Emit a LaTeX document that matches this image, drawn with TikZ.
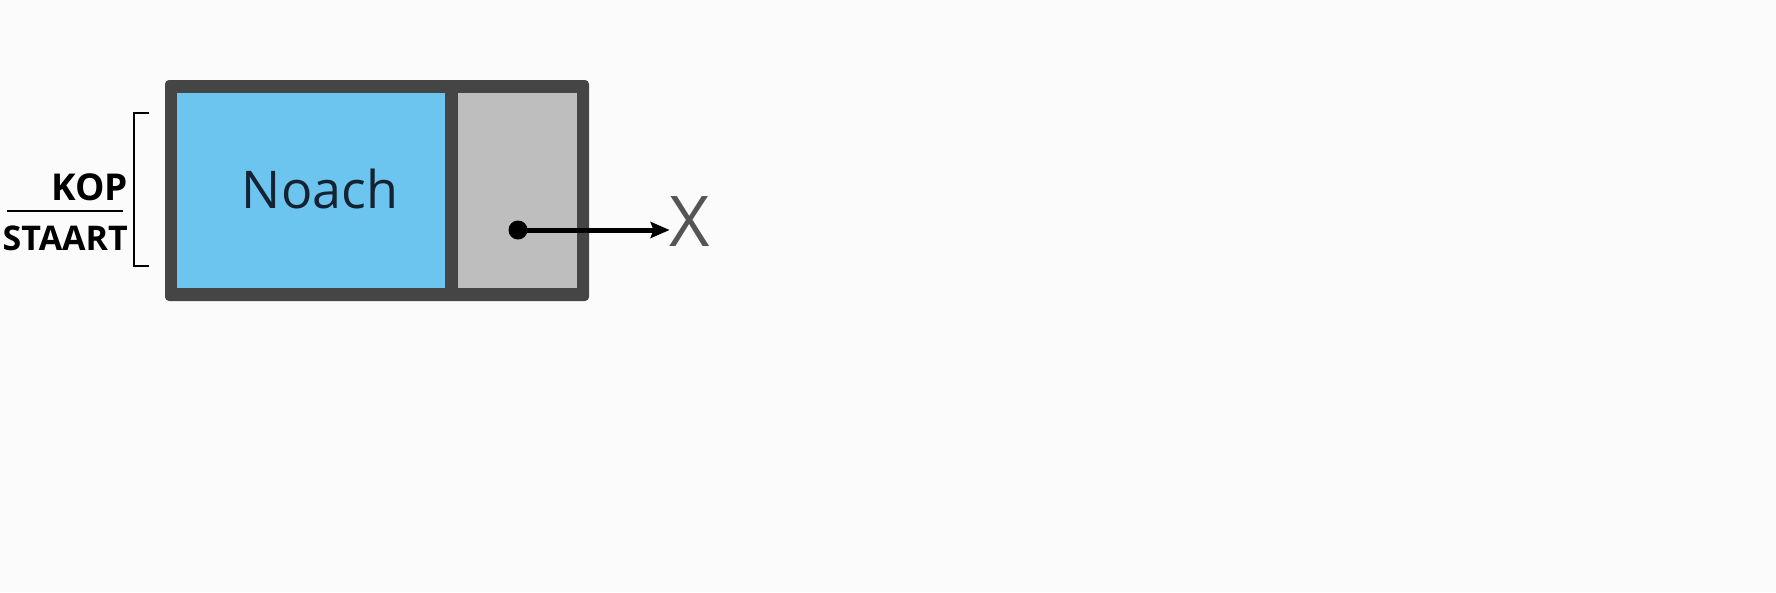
\documentclass[tikz,border=0pt]{standalone}
\usepackage{fontspec}
\setmainfont{Open Sans}
\usepackage{tikz}
\usetikzlibrary{positioning,arrows.meta}
\definecolor{FrameGrey}{HTML}{454545}
\definecolor{CellBlue}{HTML}{6CC5EE}
\definecolor{CellGrey}{HTML}{BEBEBE}
\definecolor{InkNavy}{HTML}{142232}
\definecolor{NilGrey}{HTML}{555555}
\definecolor{PaperWhite}{HTML}{FBFBFB}

\begin{document}
\begin{tikzpicture}[x=1pt,y=-1pt,
    cell/.style={draw=none,inner sep=0pt,minimum height=195pt},
    side/.style={font=\fontsize{34}{34}\selectfont\bfseries,anchor=base east,inner sep=0pt}]
  % Background
  \fill[PaperWhite] (0,0) rectangle (1776,592);
  \useasboundingbox (0,0) rectangle (1776,592);
  % List node: frame, data field, pointer field
  \node[fill=FrameGrey,rounded corners=4pt,minimum width=424pt,minimum height=221pt,inner sep=0pt] (frame) at (377,190.5) {};
  \node[cell,fill=CellBlue,minimum width=268pt] (data) at (311,190.5) {};
  \node[cell,fill=CellGrey,minimum width=119pt] (next) at (517.5,190.5) {};
  \node[font=\fontsize{52}{52}\selectfont,text=InkNavy,inner sep=0pt] (name) at (320,189) {Noach};
  % Pointer to nothing
  \node[circle,fill=black,minimum size=19pt,inner sep=0pt] (ptr) at (518,230) {};
  \node[font=\fontsize{70}{70}\selectfont,text=NilGrey,inner sep=0pt] (nil) at (690,222) {X};
  \draw[line width=5pt,-{Stealth[length=19pt,width=16pt,inset=3pt]}] (ptr.center) -- (ptr.center -| nil.west);
  % KOP / STAART bracket
  \node[side,font=\fontsize{37}{37}\selectfont\bfseries] (kop) at (128,200) {KOP};
  \node[side] (staart) at (128,250) {STAART};
  \draw[line width=1.5pt] (7,211) -- (123,211);
  \draw[line width=1.5pt] (149,113) -- (134,113) -- (134,266) -- (149,266);
\end{tikzpicture}
\end{document}
